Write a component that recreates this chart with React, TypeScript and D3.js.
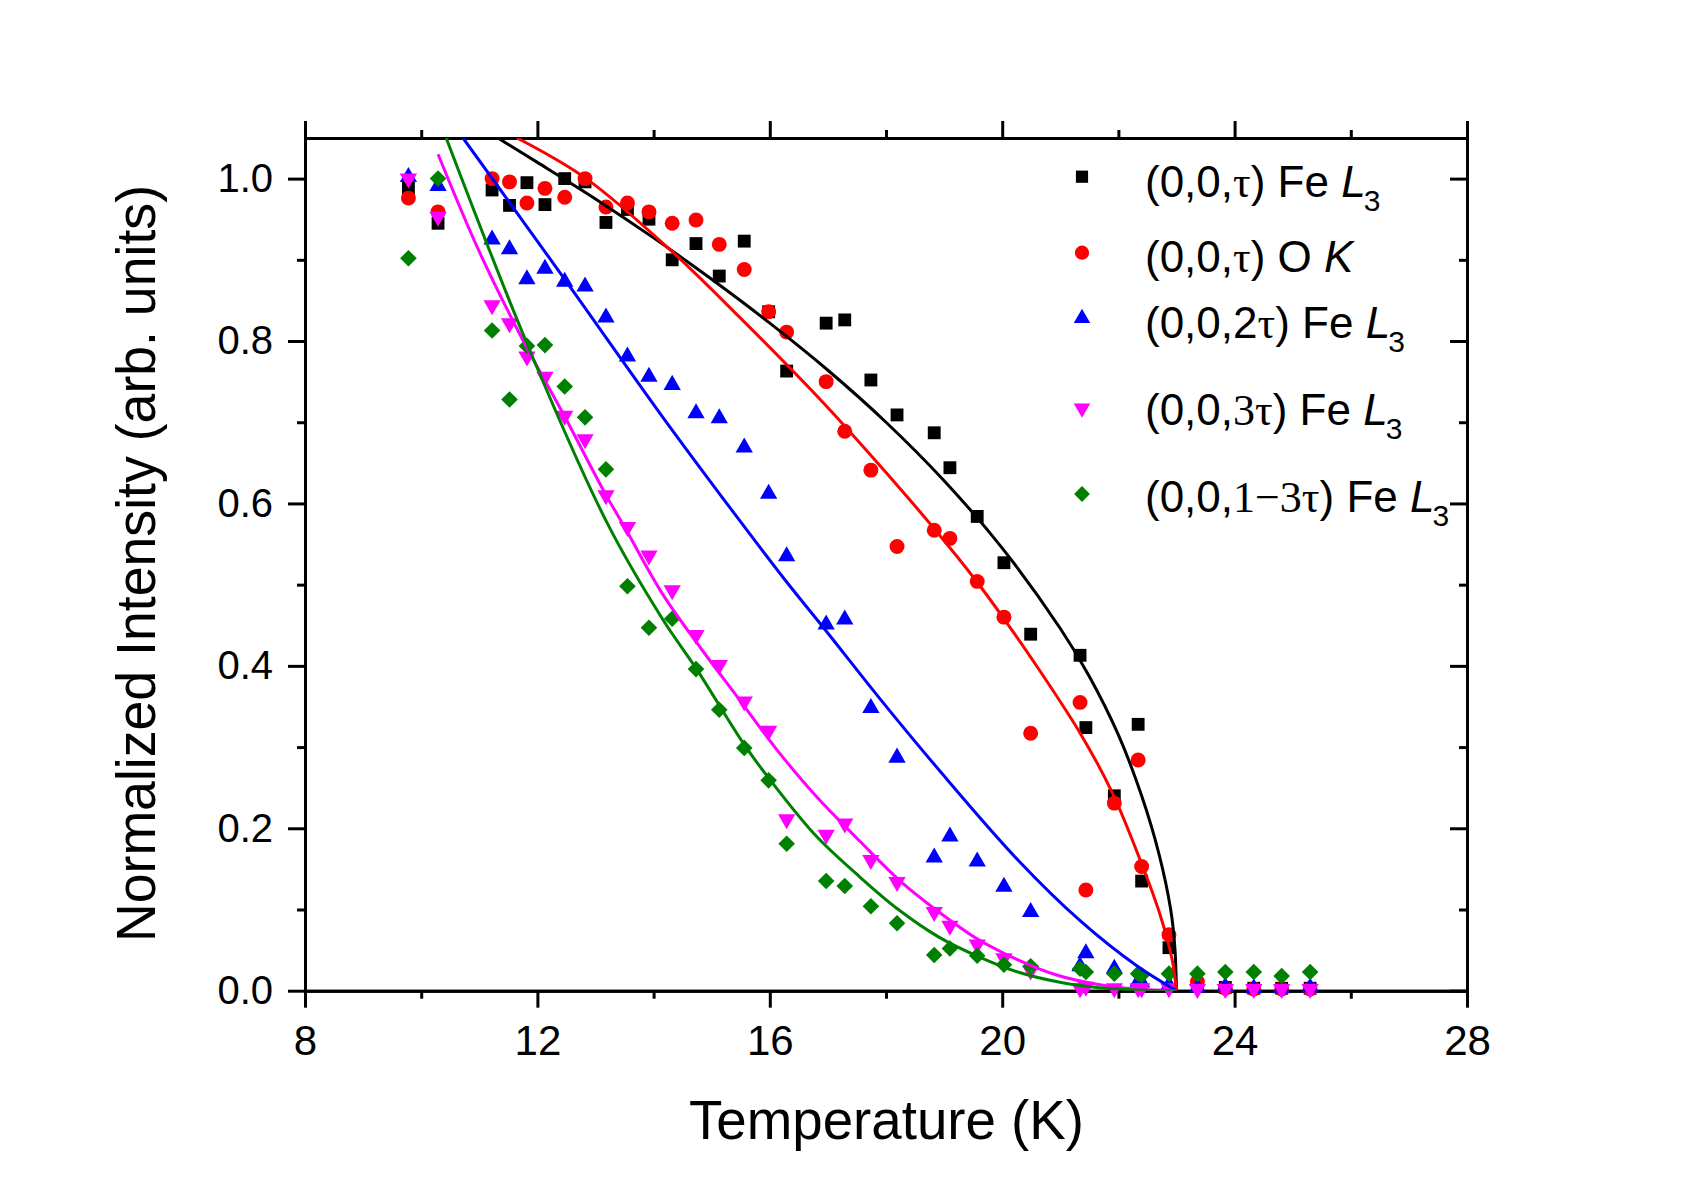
import React, { useEffect, useRef } from "react";
import * as d3 from "d3";

// temperatures of the scans (K), shared by every reflection
const temps = [9.78, 10.29, 11.22, 11.52, 11.82, 12.13, 12.47, 12.82, 13.18, 13.55, 13.92, 14.32, 14.73, 15.13, 15.56, 15.98, 16.29, 16.97, 17.29, 17.74, 18.19, 18.83, 19.10, 19.57, 20.03, 20.49, 21.34, 21.44, 21.93, 22.34, 22.40, 22.87, 23.36, 23.84, 24.33, 24.81, 25.30];

// normalized intensities, one list per reflection
const feTau = [0.988, 0.945, 0.986, 0.967, 0.995, 0.968, 1.0, 0.996, 0.946, 0.962, 0.950, 0.900, 0.920, 0.880, 0.923, 0.836, 0.763, 0.822, 0.826, 0.752, 0.709, 0.687, 0.644, 0.584, 0.527, 0.439, 0.413, 0.324, 0.240, 0.328, 0.135, 0.053, 0.006, 0.004, 0.003, 0.003, 0.003];
const oTau = [0.976, 0.959, 1.0, 0.996, 0.970, 0.988, 0.977, 1.0, 0.965, 0.970, 0.959, 0.945, 0.949, 0.919, 0.888, 0.836, 0.811, 0.750, 0.689, 0.641, 0.547, 0.567, 0.557, 0.504, 0.460, 0.317, 0.355, 0.124, 0.231, 0.284, 0.153, 0.069, 0.011, 0.003, 0.002, 0.002, 0.002];
const fe2Tau = [1.002, 0.991, 0.925, 0.913, 0.876, 0.889, 0.873, 0.867, 0.829, 0.781, 0.756, 0.746, 0.711, 0.705, 0.669, 0.612, 0.535, 0.451, 0.457, 0.348, 0.287, 0.164, 0.190, 0.159, 0.128, 0.097, 0.030, 0.046, 0.027, 0.011, 0.010, 0.007, 0.004, 0.005, 0.003, 0.003, 0.004];
const fe3Tau = [1.0, 0.953, 0.844, 0.822, 0.781, 0.756, 0.708, 0.679, 0.610, 0.571, 0.536, 0.493, 0.438, 0.401, 0.356, 0.320, 0.211, 0.192, 0.206, 0.161, 0.134, 0.097, 0.080, 0.057, 0.040, 0.025, 0.003, 0.005, 0.003, 0.003, 0.003, 0.003, 0.002, 0.002, 0.002, 0.002, 0.002];
const fe13Tau = [0.902, 1.0, 0.813, 0.728, 0.794, 0.795, 0.744, 0.706, 0.642, 0.498, 0.447, 0.458, 0.396, 0.346, 0.299, 0.259, 0.181, 0.135, 0.129, 0.104, 0.083, 0.044, 0.052, 0.043, 0.032, 0.030, 0.027, 0.023, 0.021, 0.021, 0.019, 0.021, 0.021, 0.023, 0.023, 0.018, 0.023];

// fit curves as [T, I]
const fitFeTau = [[11.32, 1.05], [12.0, 1.02], [13.0, 0.975], [14.0, 0.927], [15.0, 0.876], [16.0, 0.822], [17.0, 0.764], [18.0, 0.7], [19.0, 0.628], [20.0, 0.545], [21.0, 0.446], [21.5, 0.387], [22.0, 0.315], [22.4, 0.24], [22.7, 0.168], [22.9, 0.1], [22.97, 0.055], [23.0, 0]];
const fitOTau = [[11.65, 1.05], [12.84, 1.0], [14.32, 0.91], [15.47, 0.83], [16.92, 0.724], [17.89, 0.647], [18.77, 0.574], [19.57, 0.503], [20.03, 0.458], [20.61, 0.398], [21.36, 0.315], [21.9, 0.243], [22.38, 0.16], [22.72, 0.093], [22.92, 0.04], [23.0, 0]];
const fitFe2Tau = [[10.72, 1.05], [12.44, 0.879], [14.15, 0.707], [15.47, 0.58], [16.26, 0.506], [16.98, 0.442], [17.89, 0.36], [18.91, 0.272], [20.27, 0.161], [21.36, 0.085], [22.31, 0.031], [23.0, 0]];
const fitFe3Tau = [[10.29, 1.03], [11.0, 0.91], [11.78, 0.797], [12.44, 0.711], [13.16, 0.613], [13.5, 0.571], [14.15, 0.489], [14.81, 0.422], [15.47, 0.359], [16.13, 0.296], [16.79, 0.24], [17.55, 0.184], [18.23, 0.136], [18.91, 0.097], [19.59, 0.063], [20.27, 0.038], [20.95, 0.019], [21.63, 0.008], [22.31, 0.002], [23.0, 0]];
const fitFe13Tau = [[10.43, 1.05], [11.82, 0.797], [13.2, 0.576], [14.15, 0.458], [14.74, 0.396], [15.56, 0.303], [15.99, 0.261], [16.79, 0.191], [17.55, 0.14], [18.23, 0.099], [18.91, 0.066], [19.59, 0.042], [20.27, 0.023], [20.95, 0.011], [21.63, 0.004], [22.31, 0.001], [23.0, 0]];

const xMajor = [8, 12, 16, 20, 24, 28];
const xMinor = [10, 14, 18, 22, 26];
const yMajor = [0, 0.2, 0.4, 0.6, 0.8, 1.0];
const yMinor = [0.1, 0.3, 0.5, 0.7, 0.9];

const sans = "'Liberation Sans', Arial, Helvetica, sans-serif";
const serif = "'Liberation Serif', 'Times New Roman', serif";

type Part = { t: string; serif?: boolean; italic?: boolean; sub?: boolean };

const series = [
  { vals: feTau, fit: fitFeTau, color: "#000000", shape: d3.symbolSquare, size: 165, rot: 0,
    label: [{ t: "(0,0," }, { t: "τ", serif: true }, { t: ") Fe " }, { t: "L", italic: true }, { t: "3", sub: true }] as Part[] },
  { vals: oTau, fit: fitOTau, color: "#ff0000", shape: d3.symbolCircle, size: 175, rot: 0,
    label: [{ t: "(0,0," }, { t: "τ", serif: true }, { t: ") O " }, { t: "K", italic: true }] as Part[] },
  { vals: fe2Tau, fit: fitFe2Tau, color: "#0000ff", shape: d3.symbolTriangle, size: 130, rot: 0,
    label: [{ t: "(0,0,2" }, { t: "τ", serif: true }, { t: ") Fe " }, { t: "L", italic: true }, { t: "3", sub: true }] as Part[] },
  { vals: fe3Tau, fit: fitFe3Tau, color: "#ff00ff", shape: d3.symbolTriangle, size: 130, rot: 180,
    label: [{ t: "(0,0," }, { t: "3τ", serif: true }, { t: ") Fe " }, { t: "L", italic: true }, { t: "3", sub: true }] as Part[] },
  { vals: fe13Tau, fit: fitFe13Tau, color: "#008000", shape: d3.symbolSquare, size: 138, rot: 45,
    label: [{ t: "(0,0," }, { t: "1−3τ", serif: true }, { t: ") Fe " }, { t: "L", italic: true }, { t: "3", sub: true }] as Part[] },
];

// legend rows: marker centre y and text baseline y
const legendMarkY = [176.7, 252.7, 318.3, 408.3, 494];
const legendTextY = [196.7, 271.7, 338.3, 425, 511.7];

export default function App() {
  const ref = useRef<SVGSVGElement>(null);

  useEffect(() => {
    const svg = d3.select(ref.current);
    svg.selectAll("*").remove();

    const x = d3.scaleLinear().domain([8, 28]).range([305, 1467]);
    const y = d3.scaleLinear().domain([0, 1.05]).range([990.7, 138]);

    svg.append("defs").append("clipPath").attr("id", "plotclip")
      .append("rect")
      .attr("x", x(8)).attr("y", y(1.05))
      .attr("width", x(28) - x(8)).attr("height", y(0) - y(1.05));

    const fixAxis = (g: any, size: number) => {
      g.attr("font-family", sans).attr("font-size", size);
      g.select(".domain").attr("stroke-width", 3).attr("stroke-linecap", "square");
      g.selectAll(".tick line").attr("stroke-width", 3);
      g.selectAll(".tick text").attr("fill", "#000");
    };
    const noLabel = () => "";

    // bottom
    svg.append("g").attr("transform", `translate(0,${y(0)})`)
      .call(d3.axisBottom(x).tickValues(xMajor).tickSize(17).tickSizeOuter(0).tickPadding(17).tickFormat(d3.format("d")))
      .call((g: any) => fixAxis(g, 42));
    svg.append("g").attr("transform", `translate(0,${y(0)})`)
      .call(d3.axisBottom(x).tickValues(xMinor).tickSize(8).tickSizeOuter(0).tickFormat(noLabel))
      .call((g: any) => fixAxis(g, 42));
    // top
    svg.append("g").attr("transform", `translate(0,${y(1.05)})`)
      .call(d3.axisTop(x).tickValues(xMajor).tickSize(17).tickSizeOuter(0).tickFormat(noLabel))
      .call((g: any) => fixAxis(g, 42));
    svg.append("g").attr("transform", `translate(0,${y(1.05)})`)
      .call(d3.axisTop(x).tickValues(xMinor).tickSize(8).tickSizeOuter(0).tickFormat(noLabel))
      .call((g: any) => fixAxis(g, 42));
    // left
    svg.append("g").attr("transform", `translate(${x(8)},0)`)
      .call(d3.axisLeft(y).tickValues(yMajor).tickSize(17).tickSizeOuter(0).tickPadding(15).tickFormat(d3.format(".1f")))
      .call((g: any) => fixAxis(g, 40));
    svg.append("g").attr("transform", `translate(${x(8)},0)`)
      .call(d3.axisLeft(y).tickValues(yMinor).tickSize(8).tickSizeOuter(0).tickFormat(noLabel))
      .call((g: any) => fixAxis(g, 40));
    // right, ticks pointing inward
    svg.append("g").attr("transform", `translate(${x(28)},0)`)
      .call(d3.axisRight(y).tickValues(yMajor).tickSize(-17).tickSizeOuter(0).tickFormat(noLabel))
      .call((g: any) => fixAxis(g, 40));
    svg.append("g").attr("transform", `translate(${x(28)},0)`)
      .call(d3.axisRight(y).tickValues(yMinor).tickSize(-8).tickSizeOuter(0).tickFormat(noLabel))
      .call((g: any) => fixAxis(g, 40));

    // axis titles
    svg.append("text")
      .attr("x", (x(8) + x(28)) / 2 + 0.5).attr("y", 1139.3)
      .attr("text-anchor", "middle").attr("font-family", sans).attr("font-size", 56)
      .attr("textLength", 395).attr("lengthAdjust", "spacingAndGlyphs")
      .text("Temperature (K)");
    svg.append("text")
      .attr("transform", "translate(155,563.5) rotate(-90)")
      .attr("text-anchor", "middle").attr("font-family", sans).attr("font-size", 56)
      .attr("textLength", 757).attr("lengthAdjust", "spacingAndGlyphs")
      .text("Normalized Intensity (arb. units)");

    // data points
    const pts = svg.append("g");
    series.forEach((s) => {
      const path = d3.symbol().type(s.shape).size(s.size)();
      pts.append("g").selectAll("path")
        .data(temps.map((t, i) => [t, s.vals[i]]))
        .join("path")
        .attr("d", path)
        .attr("fill", s.color)
        .attr("transform", (d: number[]) => `translate(${x(d[0])},${y(d[1])}) rotate(${s.rot})`);
    });

    // fit lines
    const line = d3.line<number[]>().x((d) => x(d[0])).y((d) => y(d[1])).curve(d3.curveCatmullRom.alpha(0.5));
    const fits = svg.append("g").attr("clip-path", "url(#plotclip)");
    series.forEach((s) => {
      fits.append("path")
        .attr("d", line(s.fit))
        .attr("fill", "none")
        .attr("stroke", s.color)
        .attr("stroke-width", 3)
        .attr("stroke-linejoin", "round");
    });

    // legend
    const leg = svg.append("g");
    series.forEach((s, i) => {
      leg.append("path")
        .attr("d", d3.symbol().type(s.shape).size(s.size * 0.9)())
        .attr("fill", s.color)
        .attr("transform", `translate(1082,${legendMarkY[i]}) rotate(${s.rot})`);
      const txt = leg.append("text")
        .attr("x", 1145).attr("y", legendTextY[i])
        .attr("font-family", sans).attr("font-size", 44).attr("fill", "#000");
      s.label.forEach((p) => {
        const ts = txt.append("tspan").text(p.t);
        if (p.serif) ts.attr("font-family", serif);
        if (p.italic) ts.attr("font-style", "italic");
        if (p.sub) ts.attr("font-size", 30).attr("dy", 14).attr("dx", -2);
      });
    });
  }, []);

  return (
    <svg
      ref={ref}
      width={1707}
      height={1190}
      style={{ position: "absolute", left: 0, top: 0, background: "#ffffff", display: "block" }}
    />
  );
}
